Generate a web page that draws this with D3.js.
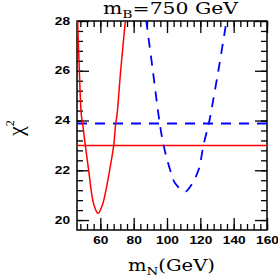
<!DOCTYPE html>
<html>
<head>
<meta charset="utf-8">
<script src="https://d3js.org/d3.v7.min.js"></script>
<style>
  body { margin: 0; background: #fff; }
  svg { display: block; }
</style>
</head>
<body>
<div id="chart"></div>
<script>
// chi^2 curves (m_N in GeV, chi^2)
var redCurve = [[46.4,28.0],[47.4,26.0],[48.6,24.22],[49.4,23.86],[51.0,22.99],[53.0,22.01],[54.6,21.14],[56.2,20.6],[58.6,20.27],[61.2,20.6],[63.2,21.14],[65.6,22.01],[68.0,22.99],[69.2,23.86],[70.0,24.22],[72.2,26.0],[75.0,28.0]];
var blueCurve = [[87.5,28.04],[91.5,26.0],[95.5,23.95],[97.9,23.02],[101.9,22.01],[104.9,21.48],[110.9,21.14],[113.9,21.34],[118.9,22.01],[121.9,23.02],[124.9,23.82],[125.9,24.15],[130.8,26.0],[135.7,28.0]];
var redLevel = 23.0;
var blueLevel = 23.88;

var xTicks = [60, 80, 100, 120, 140, 160];
var yTicks = [20, 22, 24, 26, 28];

var W = 278, H = 277;
var margin = {top: 21, right: 11, bottom: 47, left: 77};
var width = W - margin.left - margin.right;
var height = H - margin.top - margin.bottom;

var x = d3.scaleLinear().domain([46, 160]).range([0, width]);
var y = d3.scaleLinear().domain([19.6, 28]).range([height, 0]);

var svg = d3.select("#chart").append("svg")
    .attr("width", W).attr("height", H);

var g = svg.append("g")
    .attr("transform", "translate(" + margin.left + "," + margin.top + ")");

g.append("clipPath").attr("id", "clip")
  .append("rect").attr("width", width).attr("height", height);

var xMinor = d3.range(48, 160.1, 4);
var yMinor = d3.range(20, 28.01, 0.4);

function styleAxis(sel) {
  sel.select(".domain").remove();
  sel.selectAll("line").attr("stroke", "#000").attr("stroke-width", 1.3);
}

// minor ticks, all four sides, pointing in
g.append("g").attr("transform", "translate(0," + height + ")")
  .call(d3.axisBottom(x).tickValues(xMinor).tickSize(-6).tickFormat("")).call(styleAxis);
g.append("g")
  .call(d3.axisTop(x).tickValues(xMinor).tickSize(-6).tickFormat("")).call(styleAxis);
g.append("g")
  .call(d3.axisLeft(y).tickValues(yMinor).tickSize(-6).tickFormat("")).call(styleAxis);
g.append("g").attr("transform", "translate(" + width + ",0)")
  .call(d3.axisRight(y).tickValues(yMinor).tickSize(-6).tickFormat("")).call(styleAxis);

// major ticks
var xb = g.append("g").attr("transform", "translate(0," + height + ")")
  .call(d3.axisBottom(x).tickValues(xTicks).tickSize(-12).tickPadding(7).tickFormat(d3.format("d")))
  .call(styleAxis);
g.append("g")
  .call(d3.axisTop(x).tickValues(xTicks).tickSize(-12).tickFormat("")).call(styleAxis);
var yl = g.append("g")
  .call(d3.axisLeft(y).tickValues(yTicks).tickSize(-12).tickPadding(7).tickFormat(d3.format("d")))
  .call(styleAxis);
g.append("g").attr("transform", "translate(" + width + ",0)")
  .call(d3.axisRight(y).tickValues(yTicks).tickSize(-12).tickFormat("")).call(styleAxis);

[xb, yl].forEach(function(a) {
  a.selectAll("text")
    .attr("font-family", "Liberation Sans, Arial, sans-serif")
    .attr("font-weight", "bold")
    .attr("font-size", 10)
    .attr("fill", "#000")
    .attr("textLength", function(d) { return String(d).length * 7.6; })
    .attr("lengthAdjust", "spacingAndGlyphs");
});

// frame
g.append("rect").attr("width", width).attr("height", height)
  .attr("fill", "none").attr("stroke", "#000").attr("stroke-width", 1.5);

var plot = g.append("g").attr("clip-path", "url(#clip)");

var line = d3.line()
  .x(function(d) { return x(d[0]); })
  .y(function(d) { return y(d[1]); })
  .curve(d3.curveCatmullRom);

plot.append("line")
  .attr("x1", 0).attr("x2", width)
  .attr("y1", y(redLevel)).attr("y2", y(redLevel))
  .attr("stroke", "#ff0000").attr("stroke-width", 1.5);

plot.append("line")
  .attr("x1", 0).attr("x2", width)
  .attr("y1", y(blueLevel)).attr("y2", y(blueLevel))
  .attr("stroke", "#0000ff").attr("stroke-width", 1.8)
  .attr("stroke-dasharray", "10,8");

plot.append("path").datum(redCurve)
  .attr("d", line).attr("fill", "none")
  .attr("stroke", "#ff0000").attr("stroke-width", 1.5);

plot.append("path").datum(blueCurve)
  .attr("d", line).attr("fill", "none")
  .attr("stroke", "#0000ff").attr("stroke-width", 1.8)
  .attr("stroke-dasharray", "10,8");

// title
var serif = "DejaVu Serif, serif";
var title = svg.append("text")
  .attr("x", 103).attr("y", 14)
  .attr("font-family", serif).attr("font-size", 16)
  .attr("textLength", 135).attr("lengthAdjust", "spacingAndGlyphs");
title.append("tspan").text("m");
title.append("tspan").attr("font-size", 11).attr("dy", 4).text("B");
title.append("tspan").attr("dy", -4).text("=750  GeV");

// x label
var xlab = svg.append("text")
  .attr("x", 128).attr("y", 271)
  .attr("font-family", serif).attr("font-size", 16)
  .attr("textLength", 87).attr("lengthAdjust", "spacingAndGlyphs");
xlab.append("tspan").text("m");
xlab.append("tspan").attr("font-size", 11).attr("dy", 4).text("N");
xlab.append("tspan").attr("dy", -4).text("(GeV)");

// y label
var ylab = svg.append("text")
  .attr("transform", "translate(23,128) rotate(-90)")
  .attr("text-anchor", "middle")
  .attr("font-family", "Liberation Serif, serif").attr("font-size", 22);
ylab.append("tspan").text("\u03c7");
ylab.append("tspan").attr("font-size", 12).attr("dy", -9).text("2");
</script>
</body>
</html>
